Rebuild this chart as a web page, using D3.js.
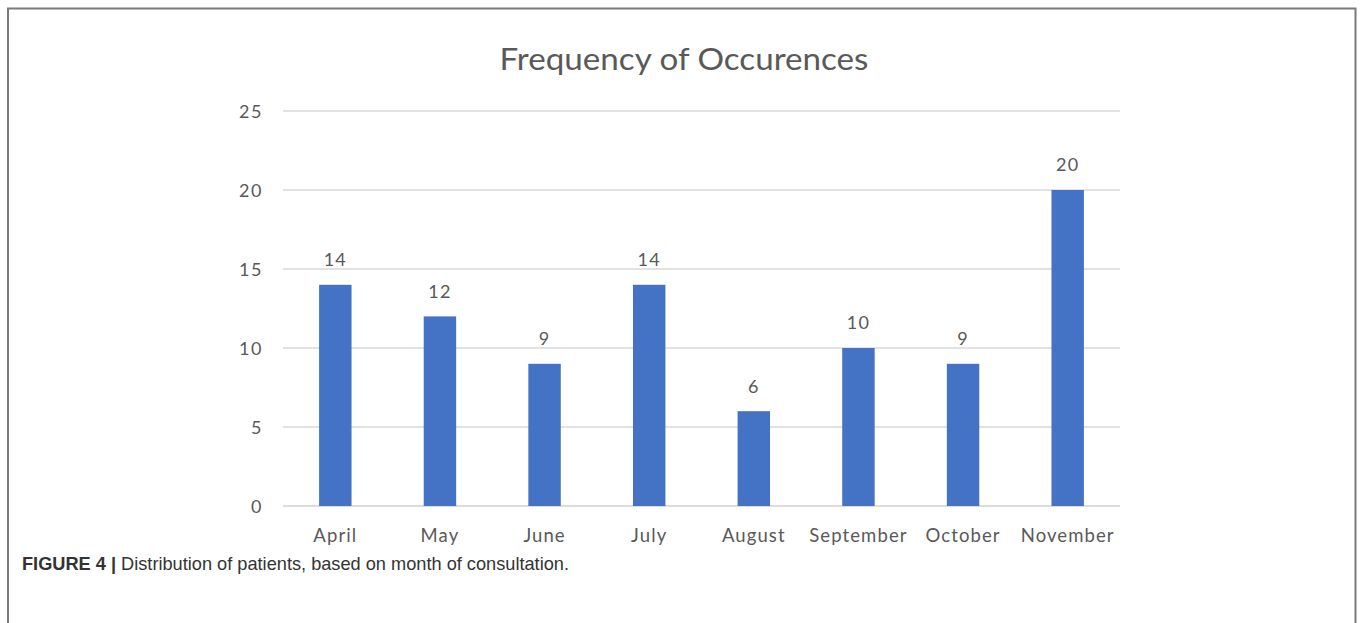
<!DOCTYPE html>
<html><head><meta charset="utf-8">
<script src="https://cdn.jsdelivr.net/npm/d3@7"></script>
<style>body{margin:0;background:#fff}svg{display:block}</style>
</head><body>
<script>
const months = ["April","May","June","July","August","September","October","November"];
const counts = [14,12,9,14,6,10,9,20];
const yTicks = [0,5,10,15,20,25];
const titleText = "Frequency of Occurences";
const captionBold = "FIGURE 4 |";
const captionText = " Distribution of patients, based on month of consultation.";

const W = 1360, H = 623;
const svg = d3.select("body").append("svg").attr("width", W).attr("height", H);

// frame (left, top, right)
svg.append("path").attr("d", `M8,${H} L8,8.5 L1355.5,8.5 L1355.5,${H}`)
  .attr("fill","none").attr("stroke","#7a7a7a").attr("stroke-width",2);

const x = d3.scaleBand().domain(months).range([283,1120]).paddingInner(0.69).paddingOuter(0.345);
const y = d3.scaleLinear().domain([0,25]).range([506,111]);

const font = "Lato, 'Open Sans', sans-serif";
const grey = "#595959";

// gridlines
svg.append("g").selectAll("line").data(yTicks).join("line")
  .attr("x1",283).attr("x2",1120).attr("y1",d=>y(d)).attr("y2",d=>y(d))
  .attr("stroke",d=>d===0?"#d0d0d0":"#d9d9d9").attr("stroke-width",1.3);

// y axis labels
const yAxis = d3.axisLeft(y).tickValues(yTicks).tickSize(0).tickPadding(0);
const gy = svg.append("g").attr("transform","translate(263,0)").call(yAxis);
gy.select(".domain").remove();
gy.selectAll("text").attr("font-family",font).attr("font-size",18).attr("letter-spacing",1.5).attr("fill",grey).attr("dy","0.35em");

// x axis labels
const xAxis = d3.axisBottom(x).tickSize(0).tickPadding(0);
const gx = svg.append("g").attr("transform","translate(0,530)").call(xAxis);
gx.select(".domain").remove();
gx.selectAll("text").attr("font-family",font).attr("font-size",18.5).attr("letter-spacing",1.1).attr("fill",grey).attr("dy","0.35em").attr("y",6);

// bars
svg.append("g").selectAll("rect").data(counts).join("rect")
  .attr("x",(d,i)=>x(months[i])).attr("width",x.bandwidth())
  .attr("y",d=>y(d)).attr("height",d=>y(0)-y(d)).attr("fill","#4472c4");

// value labels
svg.append("g").selectAll("text").data(counts).join("text")
  .attr("x",(d,i)=>x(months[i])+x.bandwidth()/2).attr("y",d=>y(d)-25)
  .attr("text-anchor","middle").attr("font-family",font).attr("font-size",18).attr("letter-spacing",1.2).attr("fill",grey)
  .attr("dy","0.35em").text(d=>d);

// title
svg.append("text").attr("x",684).attr("y",70).attr("text-anchor","middle")
  .attr("font-family",font).attr("font-size",31).attr("fill",grey)
  .attr("textLength",369).attr("lengthAdjust","spacingAndGlyphs").text(titleText);

// caption
const cap = svg.append("text").attr("x",22).attr("y",570).attr("font-family","'Liberation Sans', Arial, sans-serif")
  .attr("font-size",18.2).attr("fill","#333");
cap.append("tspan").attr("font-weight","bold").text(captionBold);
cap.append("tspan").text(captionText);
</script>
</body></html>
